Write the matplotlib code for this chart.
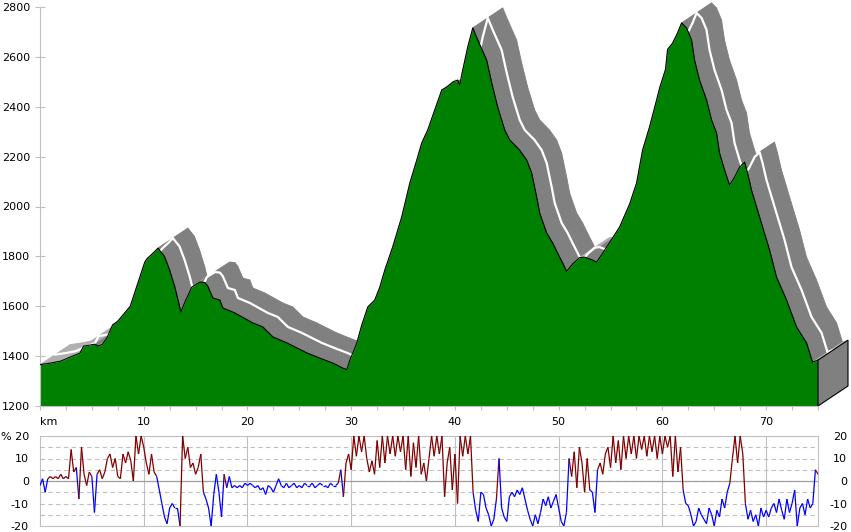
import numpy as np
import matplotlib
matplotlib.use("Agg")
import matplotlib.pyplot as plt
from matplotlib.collections import PolyCollection, LineCollection
from matplotlib.patches import Polygon

# elevation profile (km, m)
km_pts = [0.0, 1.0, 2.0, 3.0, 3.85, 4.2, 5.3, 5.6, 6.0, 6.45, 7.0, 7.5, 8.0, 8.7,
          9.15, 10.1, 10.3, 10.9, 11.37, 12.0, 12.5, 13.0, 13.58, 14.0, 14.64, 15.41,
          15.9, 16.18, 16.67, 17.34, 17.63, 18.79, 20.52, 21.48, 22.45, 23.8, 25.72,
          26.97, 28.23, 29.19, 29.58, 29.87, 30.15, 30.54, 31.02, 31.6, 32.27, 32.76,
          33.24, 34.0, 34.87, 35.65, 36.32, 36.8, 37.38, 38.05, 38.73, 39.21, 39.79,
          40.27, 40.46, 40.75, 41.23, 41.72, 42.2, 43.06, 43.55, 44.12, 44.8, 45.28,
          46.24, 46.92, 47.4, 47.88, 48.17, 48.84, 49.42, 49.9, 50.39, 50.77, 51.35,
          52.02, 52.5, 53.28, 53.66, 54.24, 55.2, 55.88, 56.17, 56.84, 57.51, 58.09,
          58.76, 59.44, 59.73, 60.3, 60.5, 60.98, 61.46, 61.85, 62.33, 62.81, 63.1,
          63.58, 64.26, 64.74, 65.22, 65.51, 66.0, 66.47, 66.96, 67.44, 67.92, 68.21,
          68.59, 68.88, 69.5, 70.33, 71.0, 71.97, 72.93, 73.9, 74.47, 75.0]
elev_pts = [1366, 1372, 1380, 1398, 1412, 1440, 1448, 1440, 1447, 1473, 1525, 1540,
            1565, 1600, 1657, 1777, 1790, 1813, 1833, 1800, 1745, 1677, 1577, 1620,
            1677, 1697, 1695, 1680, 1633, 1625, 1593, 1573, 1533, 1517, 1477, 1453,
            1413, 1392, 1372, 1352, 1346, 1384, 1412, 1453, 1525, 1597, 1625, 1677,
            1745, 1838, 1958, 2094, 2186, 2255, 2307, 2387, 2467, 2479, 2499, 2507,
            2487, 2547, 2639, 2716, 2668, 2587, 2495, 2399, 2307, 2267, 2226, 2186,
            2134, 2038, 1974, 1894, 1854, 1813, 1773, 1740, 1770, 1795, 1797, 1785,
            1777, 1813, 1874, 1918, 1946, 2010, 2094, 2226, 2319, 2427, 2475, 2550,
            2630, 2655, 2696, 2736, 2716, 2668, 2587, 2507, 2427, 2347, 2295, 2214,
            2146, 2086, 2118, 2158, 2178, 2134, 2066, 2026, 1940, 1826, 1717, 1625,
            1517, 1453, 1376, 1384]

# gradient in %, one value every 0.25 km
grad_pct = [
    -2, 1, -5, 1, 2, 1, 2, 1, 3, 1, 2, 1, 14, 4, 6, -8, 15, 3, -2, 4,            # 0-5
    2, -14, 3, 5, 1, 4, 10, 12, 6, 10, 2, 1, 12, 8, 13, 9, 0, 20, 12, 20,        # 5-10
    15, 8, 3, 12, 4, 2, -4, -10, -16, -19, -12, -10, -12, -12, -20, 20, 10, 15, 6, 8,  # 10-15
    3, 6, 12, -5, -8, -12, -20, -6, 3, -5, -16, 3, -3, 2, -3, -2, -3, -2, -3, -1,  # 15-20
    -2, -1, -2, -3, -2, -4, -3, -6, -2, -3, -5, -2, 1, -2, -3, -1, -3, -2, -1, -3,  # 20-25
    -2, -3, -1, -2, -2, -1, -3, -2, -1, -2, -2, -3, -1, -2, -2, -1, 5, -7, 8, 12,  # 25-30
    5, 20, 11, 20, 13, 20, 10, 4, 9, 3, 18, 6, 20, 8, 20, 12, 20, 11, 20, 13,      # 30-35
    20, 5, 20, 2, 17, 6, 20, 3, 8, 0, 10, 20, 11, 20, 12, 20, -7, 8, 15, -4,       # 35-40
    12, -10, 20, 11, 20, 12, 20, -5, -13, -18, -5, -6, -12, -15, -20, -17, -8, 10, -12, -16,  # 40-45
    -18, -7, -5, -7, -4, -6, -3, -8, -13, -17, -20, -15, -19, -14, -8, -11, -7, -12, -9, -6,  # 45-50
    -12, -18, -20, -14, 10, 2, 13, -3, 15, 8, -5, 10, -4, -5, -14, 5, 8, 3, 12, 15,  # 50-55
    6, 20, 8, 18, 5, 20, 10, 20, 12, 20, 10, 20, 14, 20, 11, 20, 13, 20, 10, 20,  # 55-60
    12, 20, 15, 20, 2, 20, 4, 15, -4, -10, -11, -15, -20, -18, -12, -15, -17, -19, -12, -15,  # 60-65
    -20, -13, -16, -8, -12, -5, -1, 10, 20, 8, 20, 12, -10, -17, -13, -18, -15, -20, -12, -16,  # 65-70
    -13, -16, -12, -10, -14, -8, -13, -17, -8, -14, -10, -4, -20, -12, -10, -15, -8, -12, -10, 5,  # 70-75
    3,
]
grad_km = np.arange(len(grad_pct)) * 0.25

elev_ticks = [1200, 1400, 1600, 1800, 2000, 2200, 2400, 2600, 2800]
km_ticks = [0, 10, 20, 30, 40, 50, 60, 70]
km_labels = ["km", "10", "20", "30", "40", "50", "60", "70"]
grad_ticks = [-20, -10, 0, 10, 20]
grad_left_labels = ["-20", "-10", "0", "10", "% 20"]
grad_right_labels = ["-20", "-10", "0", "10", "20"]

W, H = 851, 532
LIGHT = "#c0c0c0"
fig = plt.figure(figsize=(W / 100, H / 100), dpi=100)
plt.rcParams["font.family"] = ["DejaVu Sans"]

# --- elevation panel ---
ax = fig.add_axes([40 / W, (H - 406) / H, 778 / W, 399 / H])
ax.set_xlim(0, 75)
ax.set_ylim(1200, 2800)

x = np.array(km_pts)
y = np.array(elev_pts, dtype=float)
# depth offset of the 3D ribbon (30 px right, 20 px up) in data units
dx = 30 * 75 / 778
dy = 20 * 1600 / 399

quads, cols = [], []
for i in range(len(x) - 1):
    quads.append([(x[i], y[i]), (x[i + 1], y[i + 1]),
                  (x[i + 1] + dx, y[i + 1] + dy), (x[i] + dx, y[i] + dy)])
    cols.append("#808080" if y[i + 1] <= y[i] else "#b0b0b0")
pc = PolyCollection(quads, facecolors=cols, edgecolors=cols, linewidths=0.6,
                    zorder=1, clip_on=False)
ax.add_collection(pc)
ax.plot(x + dx / 2, y + dy / 2, color="white", lw=1.6, zorder=1.5, clip_on=False)

ax.fill_between(x, y, 1200, color="#008000", lw=0, zorder=2)
ax.plot(x, y, color="black", lw=0.8, zorder=3)

end_face = Polygon([(x[-1], 1200), (x[-1] + dx, 1200 + dy),
                    (x[-1] + dx, y[-1] + dy), (x[-1], y[-1])],
                   closed=True, facecolor="#808080", edgecolor="black", lw=0.8,
                   zorder=2.5, clip_on=False)
ax.add_patch(end_face)

for s in ["top", "right"]:
    ax.spines[s].set_visible(False)
ax.spines["left"].set_color(LIGHT)
ax.spines["bottom"].set_color(LIGHT)
ax.set_yticks(elev_ticks)
ax.tick_params(axis="y", direction="inout", length=6.5, width=0.8, color=LIGHT,
               labelsize=8, pad=4)
ax.set_xticks(km_ticks)
ax.set_xticklabels(km_labels)
ax.set_xticks(np.arange(0, 75.1, 2.5), minor=True)
ax.tick_params(axis="x", which="both", direction="out", length=3, width=0.8,
               color=LIGHT, labelsize=8, pad=5)
ax.get_xticklabels()[0].set_horizontalalignment("left")

# --- gradient panel ---
ax2 = fig.add_axes([40 / W, (H - 526) / H, 778 / W, 90 / H])
ax2.set_xlim(0, 75)
ax2.set_ylim(-20, 20)
for s in ax2.spines.values():
    s.set_color(LIGHT)
ax2.set_xticks(km_ticks[1:])
ax2.set_xticklabels([])
ax2.tick_params(axis="x", length=0)
ax2.grid(axis="x", color=LIGHT, lw=0.8)
ax2.set_yticks(grad_ticks)
ax2.set_yticklabels(grad_left_labels)
ax2.set_yticks([-15, -5, 5, 15], minor=True)
ax2.grid(axis="y", which="both", color=LIGHT, lw=0.8, ls=(0, (4, 3)))
ax2.axhline(0, color="#a0a0a0", lw=0.9)
ax2.tick_params(axis="y", which="both", length=0, labelsize=8, pad=8)

g = np.array(grad_pct, dtype=float)
segs = [[(grad_km[i], g[i]), (grad_km[i + 1], g[i + 1])] for i in range(len(g) - 1)]
seg_cols = ["#800000" if (g[i] + g[i + 1]) >= 0 else "#0000ff" for i in range(len(g) - 1)]
ax2.add_collection(LineCollection(segs, colors=seg_cols, linewidths=0.9, zorder=3))

ax3 = ax2.twinx()
ax3.set_ylim(-20, 20)
ax3.set_yticks(grad_ticks)
ax3.set_yticklabels(grad_right_labels)
ax3.tick_params(axis="y", length=0, labelsize=8, pad=21)
for lab in ax3.get_yticklabels():
    lab.set_horizontalalignment("right")
for s in ax3.spines.values():
    s.set_visible(False)

fig.savefig("out.png", dpi=100)
